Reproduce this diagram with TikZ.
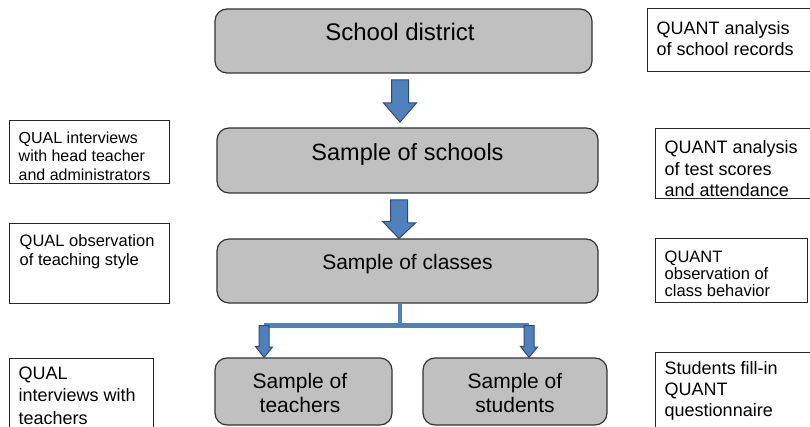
\documentclass[tikz,border=0pt]{standalone}
\usepackage{fontspec}
\setmainfont{Liberation Sans}
\usetikzlibrary{positioning, calc}
\definecolor{boxgray}{HTML}{C0C0C0}
\definecolor{barfill}{HTML}{4F81BD}
\definecolor{barline}{HTML}{2E4A75}
\tikzset{%
    box/.style={rectangle, rounded corners=12pt, draw=black!80, line width=1.2pt, fill=boxgray},
    boxt/.style={inner sep=0pt, align=center},
    side/.style={rectangle, draw=black!85, line width=1pt},
    sidet/.style={inner sep=0pt, align=left},
    barr/.style={draw=barline, line width=1pt, fill=barfill, line join=miter},
    bline/.style={draw=barfill, line width=4.5pt},
}

\begin{document}
\begin{tikzpicture}[x=1pt, y=-1pt]
    \useasboundingbox (0,0) rectangle (810,427);
    % main column
    \node [box, minimum width=377pt, minimum height=64pt] (dist) at (403.5,41) {};
    \node [box, minimum width=381pt, minimum height=65pt] (schools) at (407.5,160.5) {};
    \node [box, minimum width=381pt, minimum height=64pt] (classes) at (407.5,271) {};
    \node [box, minimum width=177pt, minimum height=67pt] (teachers) at (303.5,391.5) {};
    \node [box, minimum width=184pt, minimum height=67pt] (students) at (515,391.5) {};
    \node [boxt, font=\fontsize{24}{28}\selectfont, below=15pt of dist.north, xshift=-3.5pt] (distt) {School district};
    \node [boxt, font=\fontsize{23.5}{28}\selectfont, below=16pt of schools.north] (schoolst) {Sample of schools};
    \node [boxt, font=\fontsize{21}{24}\selectfont, below=16pt of classes.north] (classest) {Sample of classes};
    \node [boxt, font=\fontsize{21}{24}\selectfont, below=16pt of teachers.north, xshift=-3.5pt] (teacherst) {Sample of\\teachers};
    \node [boxt, font=\fontsize{21}{24}\selectfont, below=16pt of students.north] (studentst) {Sample of\\students};
    % QUAL side
    \node [side, minimum width=160pt, minimum height=63pt] (qualhead) at (89,152.5) {};
    \node [side, minimum width=160pt, minimum height=79pt] (qualobs) at (89,263.5) {};
    \node [side, minimum width=144pt, minimum height=82pt] (qualint) at (81,399) {};
    \node [sidet, font=\fontsize{16}{18.5}\selectfont, below right=11pt and 10pt of qualhead.north west] (qualheadt) {QUAL interviews\\with head teacher\\and administrators};
    \node [sidet, font=\fontsize{16.5}{19}\selectfont, below right=11pt and 11pt of qualobs.north west] (qualobst) {QUAL observation\\of teaching style};
    \node [sidet, font=\fontsize{18}{22.5}\selectfont, below right=9pt and 10pt of qualint.north west] (qualintt) {QUAL\\interviews with\\teachers};
    % QUANT side
    \node [side, minimum width=168pt, minimum height=63pt] (quantrec) at (731,40.5) {};
    \node [side, minimum width=160pt, minimum height=70pt] (quanttest) at (735,164) {};
    \node [side, minimum width=152pt, minimum height=63pt] (quantobs) at (731,270.5) {};
    \node [side, minimum width=160pt, minimum height=88pt] (quantfill) at (735,396) {};
    \node [sidet, font=\fontsize{18}{21}\selectfont, below right=12.5pt and 10pt of quantrec.north west] (quantrect) {QUANT analysis\\of school records};
    \node [sidet, font=\fontsize{18}{21.5}\selectfont, below right=12pt and 10pt of quanttest.north west] (quanttestt) {QUANT analysis\\of test scores\\and attendance};
    \node [sidet, font=\fontsize{16.5}{17}\selectfont, below right=12pt and 10pt of quantobs.north west] (quantobst) {QUANT\\observation of\\class behavior};
    \node [sidet, font=\fontsize{18}{21}\selectfont, below right=10pt and 10pt of quantfill.north west] (quantfillt) {Students fill-in\\QUANT\\questionnaire};
    % block arrows
    \coordinate (a1) at (400,80);
    \coordinate (b1) at (400,122);
    \coordinate (a2) at (399,200);
    \coordinate (b2) at (a2 |- classes.north);
    \coordinate (j) at (400,325.5);
    \coordinate (sl) at (264,325.5);
    \coordinate (sr) at (529,325.5);
    \draw [barr](a1) ++(-8.5,0) -- ++(17,0) -- ++(0,23) -- ++(8,0) -- (b1) -- ++(-16.5,-19) -- ++(8,0) -- cycle;
    \draw [barr](a2) ++(-8.5,0) -- ++(17,0) -- ++(0,23) -- ++(8,0) -- (b2) -- ++(-16.5,-17) -- ++(8,0) -- cycle;
    \draw [bline](j |- classes.south) -- (j);
    \draw [bline](sl) -- (sr);
    \foreach \s/\t in {sl/teachers, sr/students}{
        \draw [barr](\s) ++(-5,0) -- ++(10,0) -- ++(0,21.5) -- ++(3.5,0) -- (\s |- \t.north) -- ++(-8.5,-11) -- ++(3.5,0) -- cycle;
    }
\end{tikzpicture}
\end{document}
